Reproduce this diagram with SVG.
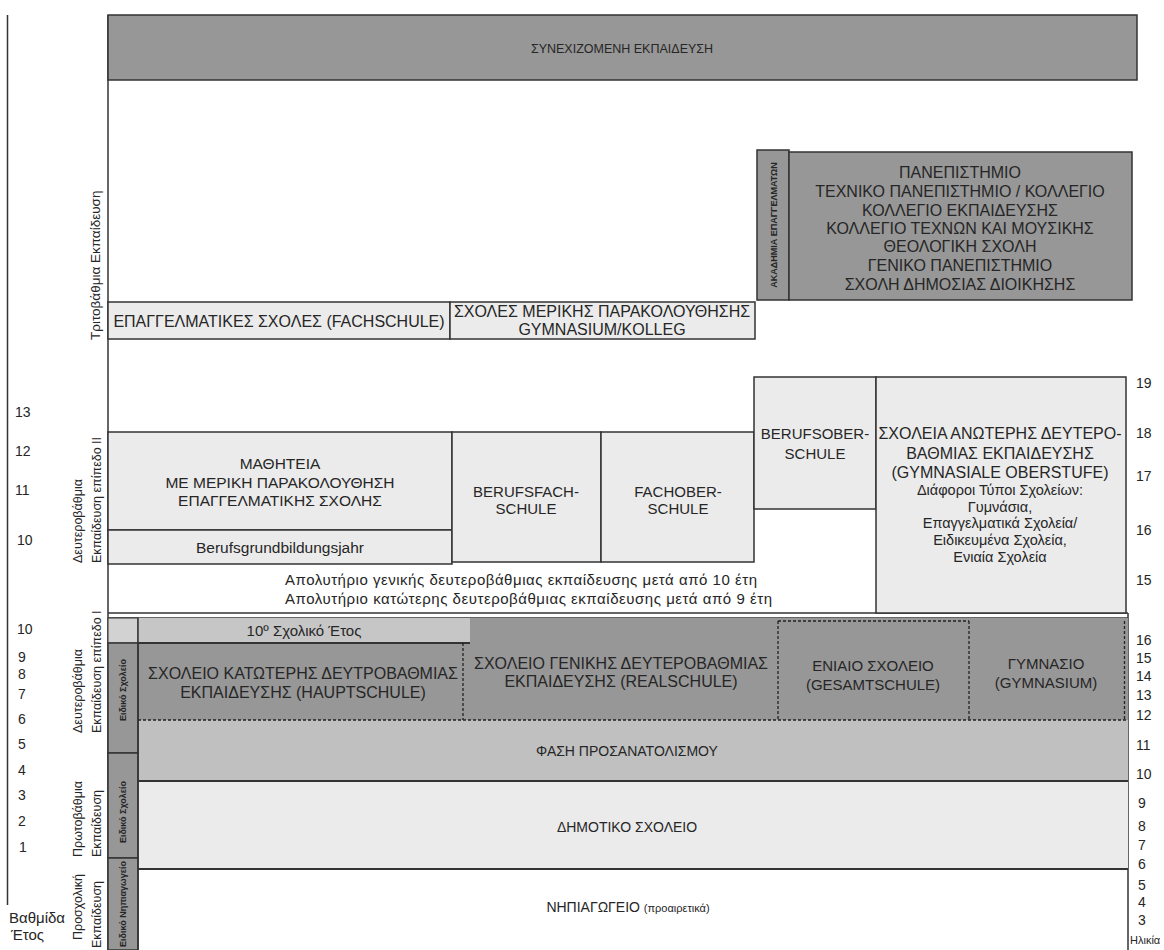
<svg xmlns="http://www.w3.org/2000/svg" width="1164" height="950" viewBox="0 0 1164 950">
<style>
text{font-family:"Liberation Sans",Arial,sans-serif;fill:#262626}
.c{text-anchor:middle}
.cap{font-size:15px}
.big{font-size:16px}
.sm{font-size:14.5px}
.num{font-size:14px}
.rot{font-size:12.5px}
.tiny{font-size:9px;font-weight:bold}
.dark{fill:#979797;stroke:#333;stroke-width:1.5}
.light{fill:#ebebeb;stroke:#333;stroke-width:1.5}
.line{stroke:#333;stroke-width:1.5;fill:none}
.dash{stroke:#222;stroke-width:1.3;stroke-dasharray:3 2;fill:none}
</style>
<rect width="1164" height="950" fill="#fff"/>

<g id="frame">
<line class="line" x1="7.5" y1="15" x2="7.5" y2="905"/>
<line class="line" x1="108" y1="15" x2="108" y2="950"/>
<line class="line" x1="1128" y1="613" x2="1128" y2="950"/>
<line class="line" x1="108" y1="613" x2="1128" y2="613"/>
<line class="line" x1="108" y1="618" x2="1128" y2="618"/>
</g>

<g id="labels-left">
<text class="rot" style="font-size:13.5px" transform="translate(100,340) rotate(-90)">Τριτοβάθμια Εκπαίδευση</text>
<text class="rot" transform="translate(82,563) rotate(-90)">Δευτεροβάθμια</text>
<text class="rot" transform="translate(101,563) rotate(-90)">Εκπαίδευση επίπεδο ΙΙ</text>
<text class="rot" transform="translate(82,733) rotate(-90)">Δευτεροβάθμια</text>
<text class="rot" transform="translate(101,733) rotate(-90)">Εκπαίδευση επίπεδο Ι</text>
<text class="rot" transform="translate(82,857) rotate(-90)">Πρωτοβάθμια</text>
<text class="rot" transform="translate(101,857) rotate(-90)">Εκπαίδευση</text>
<text class="rot" transform="translate(82,940) rotate(-90)">Προσχολική</text>
<text class="rot" transform="translate(101,948) rotate(-90)">Εκπαίδευση</text>
<text class="num" x="15" y="417">13</text>
<text class="num" x="15" y="456">12</text>
<text class="num" x="15" y="495">11</text>
<text class="num" x="17" y="545">10</text>
<text class="num" x="17" y="634">10</text>
<text class="num" x="18" y="662">9</text>
<text class="num" x="18" y="679">8</text>
<text class="num" x="18" y="699">7</text>
<text class="num" x="18" y="724">6</text>
<text class="num" x="18" y="749">5</text>
<text class="num" x="18" y="775">4</text>
<text class="num" x="18" y="800">3</text>
<text class="num" x="18" y="826">2</text>
<text class="num" x="19" y="852">1</text>
<text class="num" style="font-size:15px" x="9" y="923">Βαθμίδα</text>
<text class="num" style="font-size:15px" x="11" y="940">Έτος</text>
</g>

<g id="labels-right">
<text class="num" x="1136" y="388">19</text>
<text class="num" x="1136" y="438">18</text>
<text class="num" x="1136" y="481">17</text>
<text class="num" x="1136" y="535">16</text>
<text class="num" x="1136" y="585">15</text>
<text class="num" x="1136" y="645">16</text>
<text class="num" x="1136" y="663">15</text>
<text class="num" x="1136" y="681">14</text>
<text class="num" x="1136" y="700">13</text>
<text class="num" x="1136" y="720">12</text>
<text class="num" x="1136" y="750">11</text>
<text class="num" x="1136" y="779">10</text>
<text class="num" x="1138" y="808">9</text>
<text class="num" x="1138" y="831">8</text>
<text class="num" x="1138" y="850">7</text>
<text class="num" x="1138" y="869">6</text>
<text class="num" x="1138" y="890">5</text>
<text class="num" x="1138" y="907">4</text>
<text class="num" x="1138" y="925">3</text>
<text class="num" x="1130" y="944" style="font-size:11px">Ηλικία</text>
</g>

<g id="continuing">
<rect class="dark" x="108" y="15" width="1029" height="65"/>
<text class="c" style="font-size:12.5px" x="622" y="52.5">ΣΥΝΕΧΙΖΟΜΕΝΗ ΕΚΠΑΙΔΕΥΣΗ</text>
</g>

<g id="academy">
<rect class="dark" x="757" y="150" width="32" height="150"/>
<text class="tiny c" transform="translate(776.5,225) rotate(-90)">ΑΚΑΔΗΜΙΑ ΕΠΑΓΓΕΛΜΑΤΩΝ</text>
</g>

<g id="university">
<rect class="dark" x="789" y="152" width="343" height="148"/>
<text class="big c" x="960" y="177.5">ΠΑΝΕΠΙΣΤΗΜΙΟ</text>
<text class="big c" x="960" y="196.5">ΤΕΧΝΙΚΟ ΠΑΝΕΠΙΣΤΗΜΙΟ / ΚΟΛΛΕΓΙΟ</text>
<text class="big c" x="960" y="215.5">ΚΟΛΛΕΓΙΟ ΕΚΠΑΙΔΕΥΣΗΣ</text>
<text class="big c" x="960" y="233.5">ΚΟΛΛΕΓΙΟ ΤΕΧΝΩΝ ΚΑΙ ΜΟΥΣΙΚΗΣ</text>
<text class="big c" x="960" y="251.5">ΘΕΟΛΟΓΙΚΗ ΣΧΟΛΗ</text>
<text class="big c" x="960" y="270.5">ΓΕΝΙΚΟ ΠΑΝΕΠΙΣΤΗΜΙΟ</text>
<text class="big c" x="960" y="289.5">ΣΧΟΛΗ ΔΗΜΟΣΙΑΣ ΔΙΟΙΚΗΣΗΣ</text>
</g>

<g id="fachschule">
<rect class="light" x="108" y="302" width="342" height="37"/>
<text class="big c" x="279" y="327">ΕΠΑΓΓΕΛΜΑΤΙΚΕΣ ΣΧΟΛΕΣ (FACHSCHULE)</text>
</g>

<g id="kolleg">
<rect class="light" x="450" y="302" width="305" height="37"/>
<text class="big c" x="602" y="317">ΣΧΟΛΕΣ ΜΕΡΙΚΗΣ ΠΑΡΑΚΟΛΟΥΘΗΣΗΣ</text>
<text class="big c" x="602" y="335">GYMNASIUM/KOLLEG</text>
</g>

<g id="apprenticeship">
<rect class="light" x="108" y="432" width="344" height="98"/>
<text class="cap c" style="font-size:15.5px" x="280" y="468.5">ΜΑΘΗΤΕΙΑ</text>
<text class="cap c" style="font-size:15.5px" x="280" y="487.5">ΜΕ ΜΕΡΙΚΗ ΠΑΡΑΚΟΛΟΥΘΗΣΗ</text>
<text class="cap c" style="font-size:15.5px" x="280" y="505.5">ΕΠΑΓΓΕΛΜΑΤΙΚΗΣ ΣΧΟΛΗΣ</text>
</g>

<g id="berufsgrund">
<rect class="light" x="108" y="530" width="344" height="34"/>
<text class="c" style="font-size:15.5px" x="280" y="552.5">Berufsgrundbildungsjahr</text>
</g>

<g id="berufsfachschule">
<rect class="light" x="452" y="432" width="149" height="130"/>
<text class="cap c" x="526" y="496.5">BERUFSFACH-</text>
<text class="cap c" x="526" y="513.5">SCHULE</text>
</g>

<g id="fachoberschule">
<rect class="light" x="601" y="432" width="153" height="130"/>
<text class="cap c" x="678" y="496.5">FACHOBER-</text>
<text class="cap c" x="678" y="513.5">SCHULE</text>
</g>

<g id="berufsoberschule">
<rect class="light" x="754" y="377" width="122" height="132"/>
<text class="cap c" x="815" y="438.5">BERUFSOBER-</text>
<text class="cap c" x="815" y="458.5">SCHULE</text>
</g>

<g id="oberstufe">
<rect class="light" x="876" y="377" width="250" height="236"/>
<text class="big c" x="1000" y="438.5">ΣΧΟΛΕΙΑ ΑΝΩΤΕΡΗΣ ΔΕΥΤΕΡΟ-</text>
<text class="big c" x="1000" y="459">ΒΑΘΜΙΑΣ ΕΚΠΑΙΔΕΥΣΗΣ</text>
<text class="big c" x="1000" y="478">(GYMNASIALE OBERSTUFE)</text>
<text class="sm c" x="1000" y="495">Διάφοροι Τύποι Σχολείων:</text>
<text class="sm c" x="1000" y="512">Γυμνάσια,</text>
<text class="sm c" x="1000" y="528">Επαγγελματικά Σχολεία/</text>
<text class="sm c" x="1000" y="545">Ειδικευμένα Σχολεία,</text>
<text class="sm c" x="1000" y="562">Ενιαία Σχολεία</text>
</g>

<g id="certificates">
<text style="font-size:15px" x="285" y="585" textLength="472">Απολυτήριο γενικής δευτεροβάθμιας εκπαίδευσης μετά από 10 έτη</text>
<text style="font-size:15px" x="285" y="604" textLength="487">Απολυτήριο κατώτερης δευτεροβάθμιας εκπαίδευσης μετά από 9 έτη</text>
</g>

<g id="secondary-one">
<rect x="138" y="618" width="990" height="102" fill="#979797"/>
</g>

<g id="year10">
<rect x="108" y="618" width="30" height="25" fill="#d2d2d2" stroke="#333" stroke-width="1"/>
<rect x="138" y="618" width="332" height="25" fill="#c6c6c6"/>
<line x1="138" y1="643" x2="470" y2="643" stroke="#333" stroke-width="2"/>
<text class="c" style="font-size:15px" x="304" y="636">10º Σχολικό Έτος</text>
</g>

<g id="hauptschule">
<text class="big c" x="303" y="678.5">ΣΧΟΛΕΙΟ ΚΑΤΩΤΕΡΗΣ ΔΕΥΤΡΟΒΑΘΜΙΑΣ</text>
<text class="big c" x="303" y="697.5">ΕΚΠΑΙΔΕΥΣΗΣ (HAUPTSCHULE)</text>
</g>

<g id="realschule">
<text class="big c" x="621" y="668.5">ΣΧΟΛΕΙΟ ΓΕΝΙΚΗΣ ΔΕΥΤΕΡΟΒΑΘΜΙΑΣ</text>
<text class="big c" x="621" y="686.5">ΕΚΠΑΙΔΕΥΣΗΣ (REALSCHULE)</text>
</g>

<g id="gesamtschule">
<text class="cap c" x="873" y="670.5">ΕΝΙΑΙΟ ΣΧΟΛΕΙΟ</text>
<text class="cap c" x="873" y="689.5">(GESAMTSCHULE)</text>
</g>

<g id="gymnasium">
<text class="cap c" x="1046" y="668.5">ΓΥΜΝΑΣΙΟ</text>
<text class="cap c" x="1046" y="687.5">(GYMNASIUM)</text>
</g>

<g id="orientation">
<rect x="138" y="720" width="990" height="61" fill="#c0c0c0"/>
<text class="c" style="font-size:14px" x="627" y="756">ΦΑΣΗ ΠΡΟΣΑΝΑΤΟΛΙΣΜΟΥ</text>
</g>

<g id="primary">
<rect x="138" y="781" width="990" height="88" fill="#ebebeb"/>
<text class="c" style="font-size:14px" x="627" y="832">ΔΗΜΟΤΙΚΟ ΣΧΟΛΕΙΟ</text>
</g>

<g id="kindergarten">
<text class="c" style="font-size:14px" x="628" y="912">ΝΗΠΙΑΓΩΓΕΙΟ <tspan style="font-size:11px">(προαιρετικά)</tspan></text>
</g>

<g id="special-school-1">
<rect class="dark" x="108" y="643" width="30" height="110"/>
<text class="tiny c" transform="translate(126,690) rotate(-90)">Ειδικό Σχολείο</text>
</g>

<g id="special-school-2">
<rect class="dark" x="108" y="753" width="30" height="105"/>
<text class="tiny c" transform="translate(126,812) rotate(-90)">Ειδικό Σχολείο</text>
</g>

<g id="special-kindergarten">
<rect class="dark" x="108" y="858" width="30" height="92"/>
<text class="tiny c" transform="translate(126,904) rotate(-90)">Ειδικό Νηπιαγωγείο</text>
</g>

<g id="connectors">
<line class="dash" x1="463" y1="643" x2="463" y2="720"/>
<line class="dash" x1="778" y1="621" x2="778" y2="720"/>
<line class="dash" x1="969" y1="621" x2="969" y2="720"/>
<line class="dash" x1="778" y1="621" x2="969" y2="621"/>
<line class="dash" x1="1124.5" y1="621" x2="1124.5" y2="720"/>
<line class="dash" x1="138" y1="720" x2="1128" y2="720"/>
<line x1="138" y1="781" x2="1128" y2="781" stroke="#333" stroke-width="2"/>
<line x1="138" y1="869" x2="1128" y2="869" stroke="#333" stroke-width="2"/>
<line class="line" x1="138" y1="618" x2="138" y2="950"/>
</g>
</svg>
